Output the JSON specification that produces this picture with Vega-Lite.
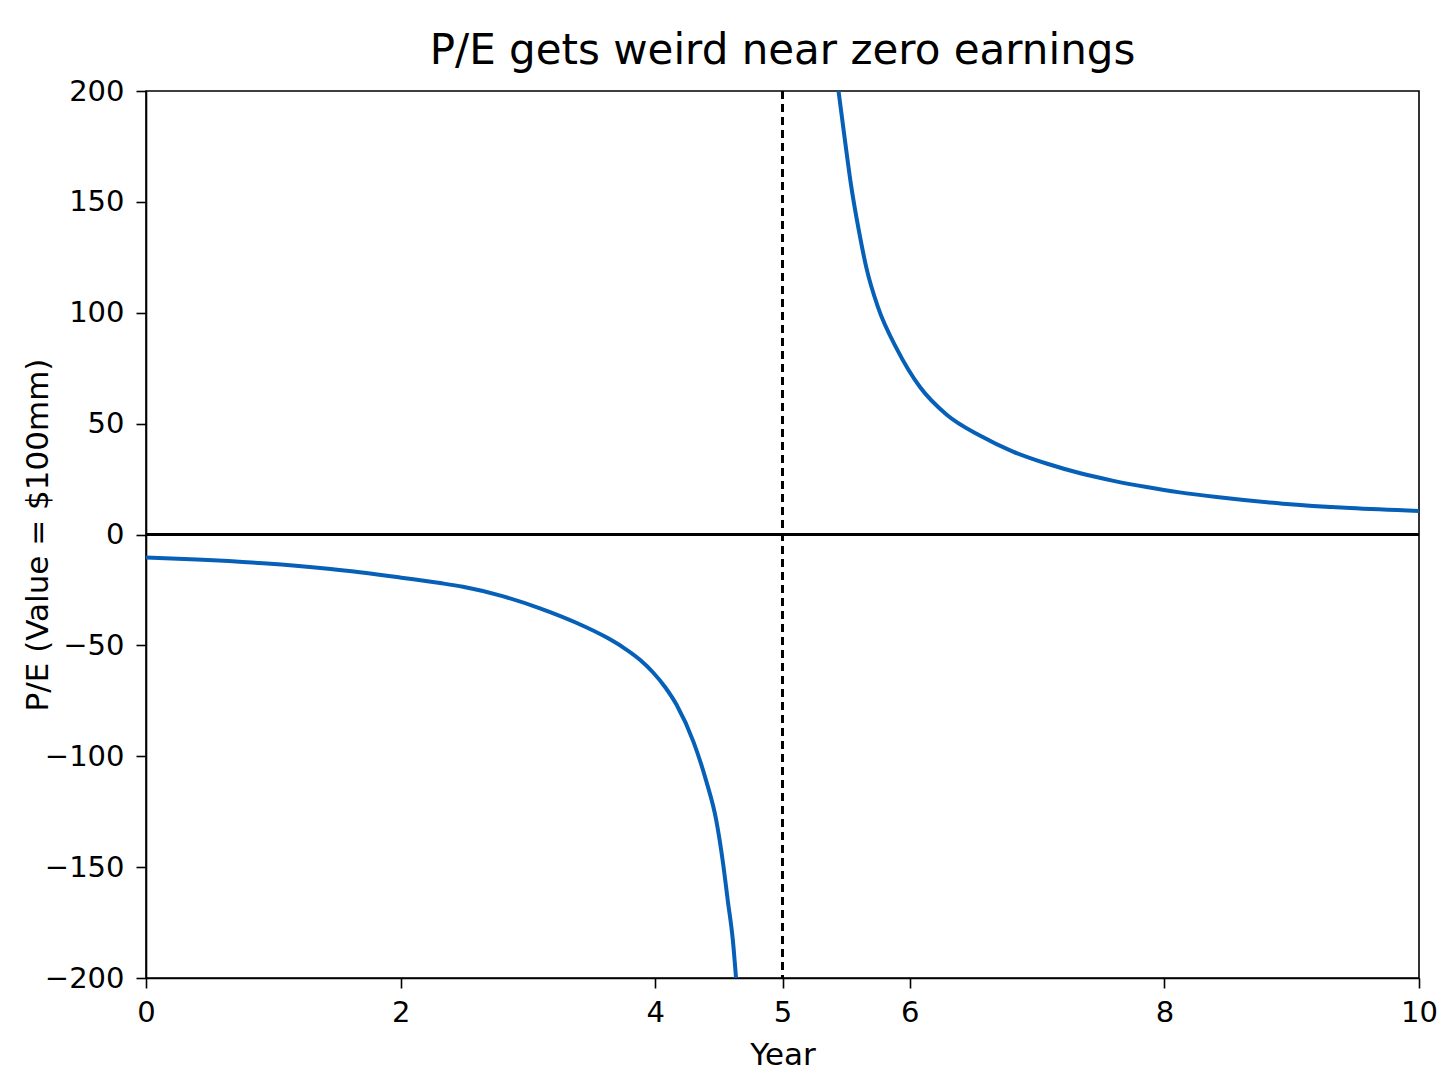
{
  "$schema": "https://vega.github.io/schema/vega-lite/v6.json",
  "autosize": {"type": "none"},
  "padding": {"left": 146, "top": 91, "right": 29, "bottom": 108},
  "width": 1273,
  "height": 887,
  "background": "white",
  "config": {
    "font": "DejaVu Sans",
    "view": {"stroke": "black", "strokeWidth": 1.6},
    "axis": {
      "grid": false,
      "domainColor": "black",
      "domainWidth": 1.6,
      "tickColor": "black",
      "tickWidth": 1.6,
      "tickSize": 10,
      "labelFont": "DejaVu Sans",
      "labelFontSize": 29,
      "labelColor": "black",
      "labelFlush": false,
      "titleFont": "DejaVu Sans",
      "titleFontSize": 31,
      "titleFontWeight": "normal",
      "titleColor": "black"
    }
  },
  "title": {
    "text": "P/E gets weird near zero earnings",
    "fontSize": 42,
    "fontWeight": "normal",
    "font": "DejaVu Sans",
    "color": "black",
    "anchor": "middle",
    "offset": 4
  },
  "datasets": {
    "pe": [
      {"year": 0.0, "pe": -10.4, "branch": "neg"},
      {"year": 0.4, "pe": -11.3, "branch": "neg"},
      {"year": 0.92, "pe": -13.0, "branch": "neg"},
      {"year": 1.45, "pe": -15.6, "branch": "neg"},
      {"year": 1.97, "pe": -19.2, "branch": "neg"},
      {"year": 2.31, "pe": -21.9, "branch": "neg"},
      {"year": 2.49, "pe": -23.6, "branch": "neg"},
      {"year": 2.8, "pe": -27.8, "branch": "neg"},
      {"year": 3.1, "pe": -33.4, "branch": "neg"},
      {"year": 3.38, "pe": -39.8, "branch": "neg"},
      {"year": 3.62, "pe": -46.5, "branch": "neg"},
      {"year": 3.75, "pe": -51.0, "branch": "neg"},
      {"year": 3.88, "pe": -56.5, "branch": "neg"},
      {"year": 3.98, "pe": -62.0, "branch": "neg"},
      {"year": 4.08, "pe": -69.0, "branch": "neg"},
      {"year": 4.17, "pe": -77.0, "branch": "neg"},
      {"year": 4.3, "pe": -93.4, "branch": "neg"},
      {"year": 4.4, "pe": -111.0, "branch": "neg"},
      {"year": 4.48, "pe": -129.0, "branch": "neg"},
      {"year": 4.53, "pe": -147.0, "branch": "neg"},
      {"year": 4.57, "pe": -165.0, "branch": "neg"},
      {"year": 4.61, "pe": -183.0, "branch": "neg"},
      {"year": 4.635, "pe": -200.0, "branch": "neg"},
      {"year": 5.44, "pe": 200.0, "branch": "pos"},
      {"year": 5.49, "pe": 178.0, "branch": "pos"},
      {"year": 5.54, "pe": 157.0, "branch": "pos"},
      {"year": 5.6, "pe": 137.0, "branch": "pos"},
      {"year": 5.66, "pe": 120.0, "branch": "pos"},
      {"year": 5.75, "pe": 102.5, "branch": "pos"},
      {"year": 5.9, "pe": 83.5, "branch": "pos"},
      {"year": 6.08, "pe": 66.5, "branch": "pos"},
      {"year": 6.29, "pe": 54.0, "branch": "pos"},
      {"year": 6.55, "pe": 44.6, "branch": "pos"},
      {"year": 6.81, "pe": 37.4, "branch": "pos"},
      {"year": 7.08, "pe": 31.9, "branch": "pos"},
      {"year": 7.34, "pe": 27.6, "branch": "pos"},
      {"year": 7.6, "pe": 24.2, "branch": "pos"},
      {"year": 7.86, "pe": 21.4, "branch": "pos"},
      {"year": 8.12, "pe": 19.0, "branch": "pos"},
      {"year": 8.41, "pe": 16.9, "branch": "pos"},
      {"year": 8.93, "pe": 13.9, "branch": "pos"},
      {"year": 9.46, "pe": 11.9, "branch": "pos"},
      {"year": 10.0, "pe": 10.6, "branch": "pos"}
    ]
  },
  "data": {"name": "pe"},
  "layer": [
    {
      "mark": {"type": "line", "color": "#0760b8", "strokeWidth": 4, "clip": true, "interpolate": "monotone"},
      "encoding": {
        "x": {
          "field": "year",
          "type": "quantitative",
          "scale": {"domain": [0, 10], "nice": false, "zero": false},
          "axis": {"values": [0, 2, 4, 5, 6, 8, 10], "title": "Year", "labelPadding": 10, "titlePadding": 13, "format": "d"}
        },
        "y": {
          "field": "pe",
          "type": "quantitative",
          "scale": {"domain": [-200, 200], "nice": false},
          "axis": {"values": [-200, -150, -100, -50, 0, 50, 100, 150, 200], "title": "P/E (Value = $100mm)", "labelPadding": 12, "titlePadding": -10, "format": "d"}
        },
        "detail": {"field": "branch"}
      }
    },
    {
      "mark": {"type": "rule", "color": "black", "strokeWidth": 2},
      "encoding": {"y": {"datum": 0}}
    },
    {
      "mark": {"type": "rule", "color": "black", "strokeWidth": 1.6, "strokeDash": [8, 5]},
      "encoding": {"x": {"datum": 5}}
    }
  ]
}
